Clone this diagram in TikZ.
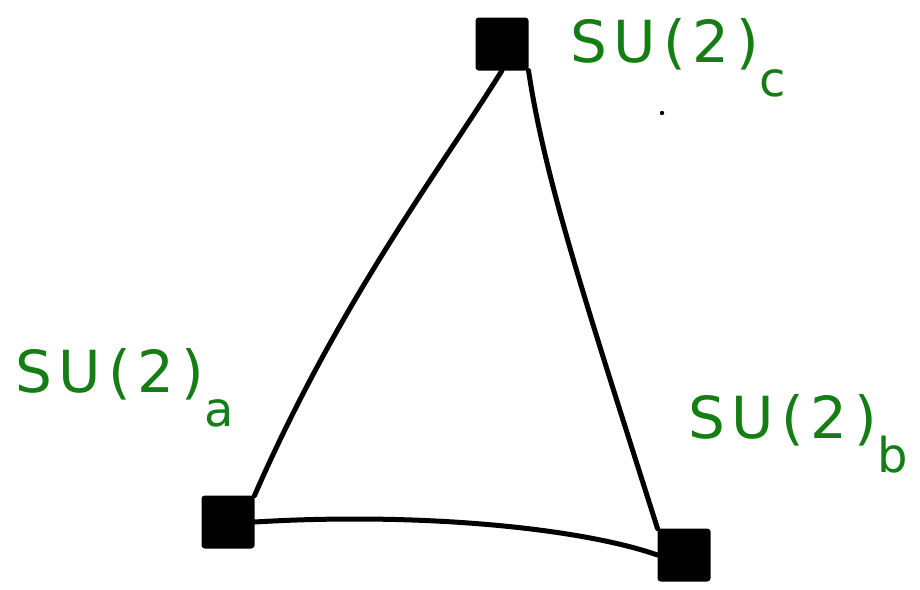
\documentclass[tikz,border=0pt]{standalone}
\usepackage{fontspec}
\setmainfont{DejaVu Sans}[LetterSpace=12]
\definecolor{penGreen}{RGB}{20,125,20}
\begin{document}
\begin{tikzpicture}[x=1pt,y=-1pt,
  vert/.style={draw=black,fill=black,line width=3pt,minimum size=50pt,inner sep=0pt,rounded corners=2pt},
  edge/.style={draw=black,line width=5pt,line cap=round},
  lbl/.style={text=penGreen,font=\fontsize{58}{60}\selectfont,inner sep=0pt,anchor=base west}]
\useasboundingbox (0,0) rectangle (920,589);
\node[vert] (c) at (502,44) {};
\node[vert] (a) at (228,522) {};
\node[vert] (b) at (684,555) {};
\draw[edge] (c.south) .. controls (440,170) and (340,300) .. (a.north east);
\draw[edge] (c.south east) .. controls (545,180) and (585,300) .. (b.north west);
\draw[edge] (a.east) .. controls (420,512) and (580,528) .. (b.west);
\node[lbl] (lc) at (570,62) {SU(2)\raisebox{-0.6em}{\fontsize{48}{50}\selectfont c}};
\node[lbl] (la) at (15,392) {SU(2)\raisebox{-0.6em}{\fontsize{48}{50}\selectfont a}};
\node[lbl] (lb) at (688,438) {SU(2)\raisebox{-0.6em}{\fontsize{48}{50}\selectfont b}};
\fill (662,113) circle (2.2);
\end{tikzpicture}
\end{document}
